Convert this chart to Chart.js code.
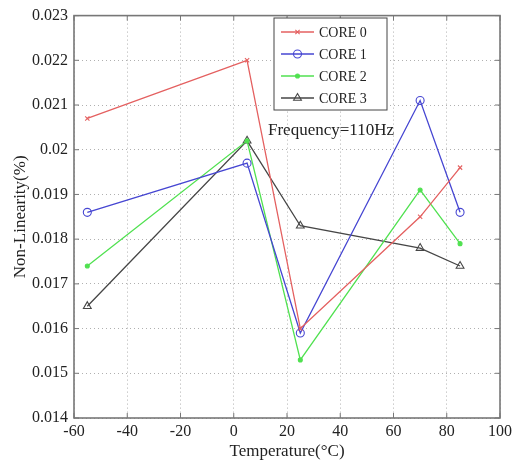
<!DOCTYPE html>
<html>
<head>
<meta charset="utf-8">
<script src="https://cdn.jsdelivr.net/npm/chart.js@4.4.0/dist/chart.umd.min.js"></script>
<style>
html, body { margin: 0; padding: 0; background: #fff; }
</style>
</head>
<body>
<canvas id="chart" width="516" height="466"></canvas>
<script>
// temperatures (x) and non-linearity (%) for each core
const temps = [-55, 5, 25, 70, 85]
const core0 = [0.0207, 0.0220, 0.0160, 0.0185, 0.0196]
const core1 = [0.0186, 0.0197, 0.0159, 0.0211, 0.0186]
const core2 = [0.0174, 0.0202, 0.0153, 0.0191, 0.0179]
const core3 = [0.0165, 0.0202, 0.0183, 0.0178, 0.0174]

const seriesNames = ['CORE 0', 'CORE 1', 'CORE 2', 'CORE 3']
const xTicks = [-60, -40, -20, 0, 20, 40, 60, 80, 100]
const yTicks = [0.014, 0.015, 0.016, 0.017, 0.018, 0.019, 0.02, 0.021, 0.022, 0.023]
const annotation = 'Frequency=110Hz'

const serif = '"Liberation Serif", "DejaVu Serif", serif'

const toPoints = vals => vals.map((v, i) => ({ x: temps[i], y: v }))

const styles = [
    { color: 'rgb(228,96,96)', pointStyle: 'crossRot', radius: 3, fill: 'rgb(228,96,96)' },
    { color: 'rgb(70,70,210)', pointStyle: 'circle', radius: 4, fill: 'rgba(0,0,0,0)' },
    { color: 'rgb(80,225,80)', pointStyle: 'circle', radius: 2, fill: 'rgb(80,225,80)' },
    { color: 'rgb(70,70,70)', pointStyle: 'triangle', radius: 4.5, fill: 'rgba(0,0,0,0)' }
]

const datasets = [core0, core1, core2, core3].map((vals, i) => ({
    label: seriesNames[i],
    data: toPoints(vals),
    showLine: true,
    borderColor: styles[i].color,
    backgroundColor: styles[i].fill,
    borderWidth: 1.3,
    pointStyle: styles[i].pointStyle,
    pointRadius: styles[i].radius,
    pointBorderColor: styles[i].color,
    pointBackgroundColor: styles[i].fill,
    pointBorderWidth: 1.1,
    tension: 0
}))

// frame, inward ticks, legend box and text note
const decorations = {
    id: 'decorations',
    afterDraw(chart) {
        const ctx = chart.ctx
        const a = chart.chartArea
        const xs = chart.scales.x
        const ys = chart.scales.y
        ctx.save()

        ctx.strokeStyle = '#777'
        ctx.lineWidth = 1
        xTicks.forEach(t => {
            const px = xs.getPixelForValue(t)
            ctx.beginPath()
            ctx.moveTo(px, a.bottom); ctx.lineTo(px, a.bottom - 5)
            ctx.moveTo(px, a.top); ctx.lineTo(px, a.top + 5)
            ctx.stroke()
        })
        yTicks.forEach(t => {
            const py = ys.getPixelForValue(t)
            ctx.beginPath()
            ctx.moveTo(a.left, py); ctx.lineTo(a.left + 5, py)
            ctx.moveTo(a.right, py); ctx.lineTo(a.right - 5, py)
            ctx.stroke()
        })
        ctx.lineWidth = 1.6
        ctx.strokeRect(a.left, a.top, a.right - a.left, a.bottom - a.top)

        // legend
        const lx = 274, ly = 18, lw = 113, lh = 92
        ctx.fillStyle = '#fff'
        ctx.fillRect(lx, ly, lw, lh)
        ctx.strokeStyle = '#444'
        ctx.lineWidth = 1
        ctx.strokeRect(lx, ly, lw, lh)
        ctx.font = '14px ' + serif
        ctx.textBaseline = 'middle'
        ctx.textAlign = 'left'
        chart.data.datasets.forEach((ds, i) => {
            const y = ly + 14 + i * 22
            ctx.strokeStyle = ds.borderColor
            ctx.lineWidth = 1.3
            ctx.beginPath()
            ctx.moveTo(lx + 7, y); ctx.lineTo(lx + 40, y)
            ctx.stroke()
            ctx.fillStyle = ds.pointBackgroundColor
            ctx.strokeStyle = ds.pointBorderColor
            ctx.lineWidth = ds.pointBorderWidth
            Chart.helpers.drawPoint(ctx, {
                pointStyle: ds.pointStyle,
                radius: ds.pointRadius,
                borderWidth: ds.pointBorderWidth
            }, lx + 23.5, y)
            ctx.fillStyle = '#222'
            ctx.fillText(ds.label, lx + 45, y + 1)
        })

        ctx.font = '17px ' + serif
        ctx.fillStyle = '#222'
        ctx.fillText(annotation, 268, 131)
        ctx.restore()
    }
}

new Chart(document.getElementById('chart'), {
    type: 'scatter',
    data: { datasets },
    options: {
        responsive: false,
        animation: false,
        layout: { padding: { top: 14, right: 16, left: 0, bottom: 0 } },
        plugins: { legend: { display: false }, tooltip: { enabled: false } },
        scales: {
            x: {
                type: 'linear',
                min: -60,
                max: 100,
                afterBuildTicks(scale) { scale.ticks = xTicks.map(v => ({ value: v })) },
                afterFit(scale) { scale.height = 48 },
                ticks: {
                    color: '#222',
                    font: { family: serif, size: 16 },
                    padding: 4,
                    maxRotation: 0,
                    callback: v => String(v)
                },
                grid: { color: '#b0b0b0', drawTicks: false, lineWidth: 1 },
                border: { display: false, dash: [1, 3] },
                title: {
                    display: true,
                    text: 'Temperature(°C)',
                    color: '#222',
                    font: { family: serif, size: 17 },
                    padding: { top: 0, bottom: 4 }
                }
            },
            y: {
                type: 'linear',
                min: 0.014,
                max: 0.023,
                afterBuildTicks(scale) { scale.ticks = yTicks.map(v => ({ value: v })) },
                afterFit(scale) { scale.width = 74 },
                ticks: {
                    color: '#222',
                    font: { family: serif, size: 16 },
                    padding: 6,
                    callback: v => String(Number(v.toFixed(3)))
                },
                grid: { color: '#b0b0b0', drawTicks: false, lineWidth: 1 },
                border: { display: false, dash: [1, 3] },
                title: {
                    display: true,
                    text: 'Non-Linearity(%)',
                    color: '#222',
                    font: { family: serif, size: 17 },
                    padding: { top: 10, bottom: 0 }
                }
            }
        }
    },
    plugins: [decorations]
})
</script>
</body>
</html>
